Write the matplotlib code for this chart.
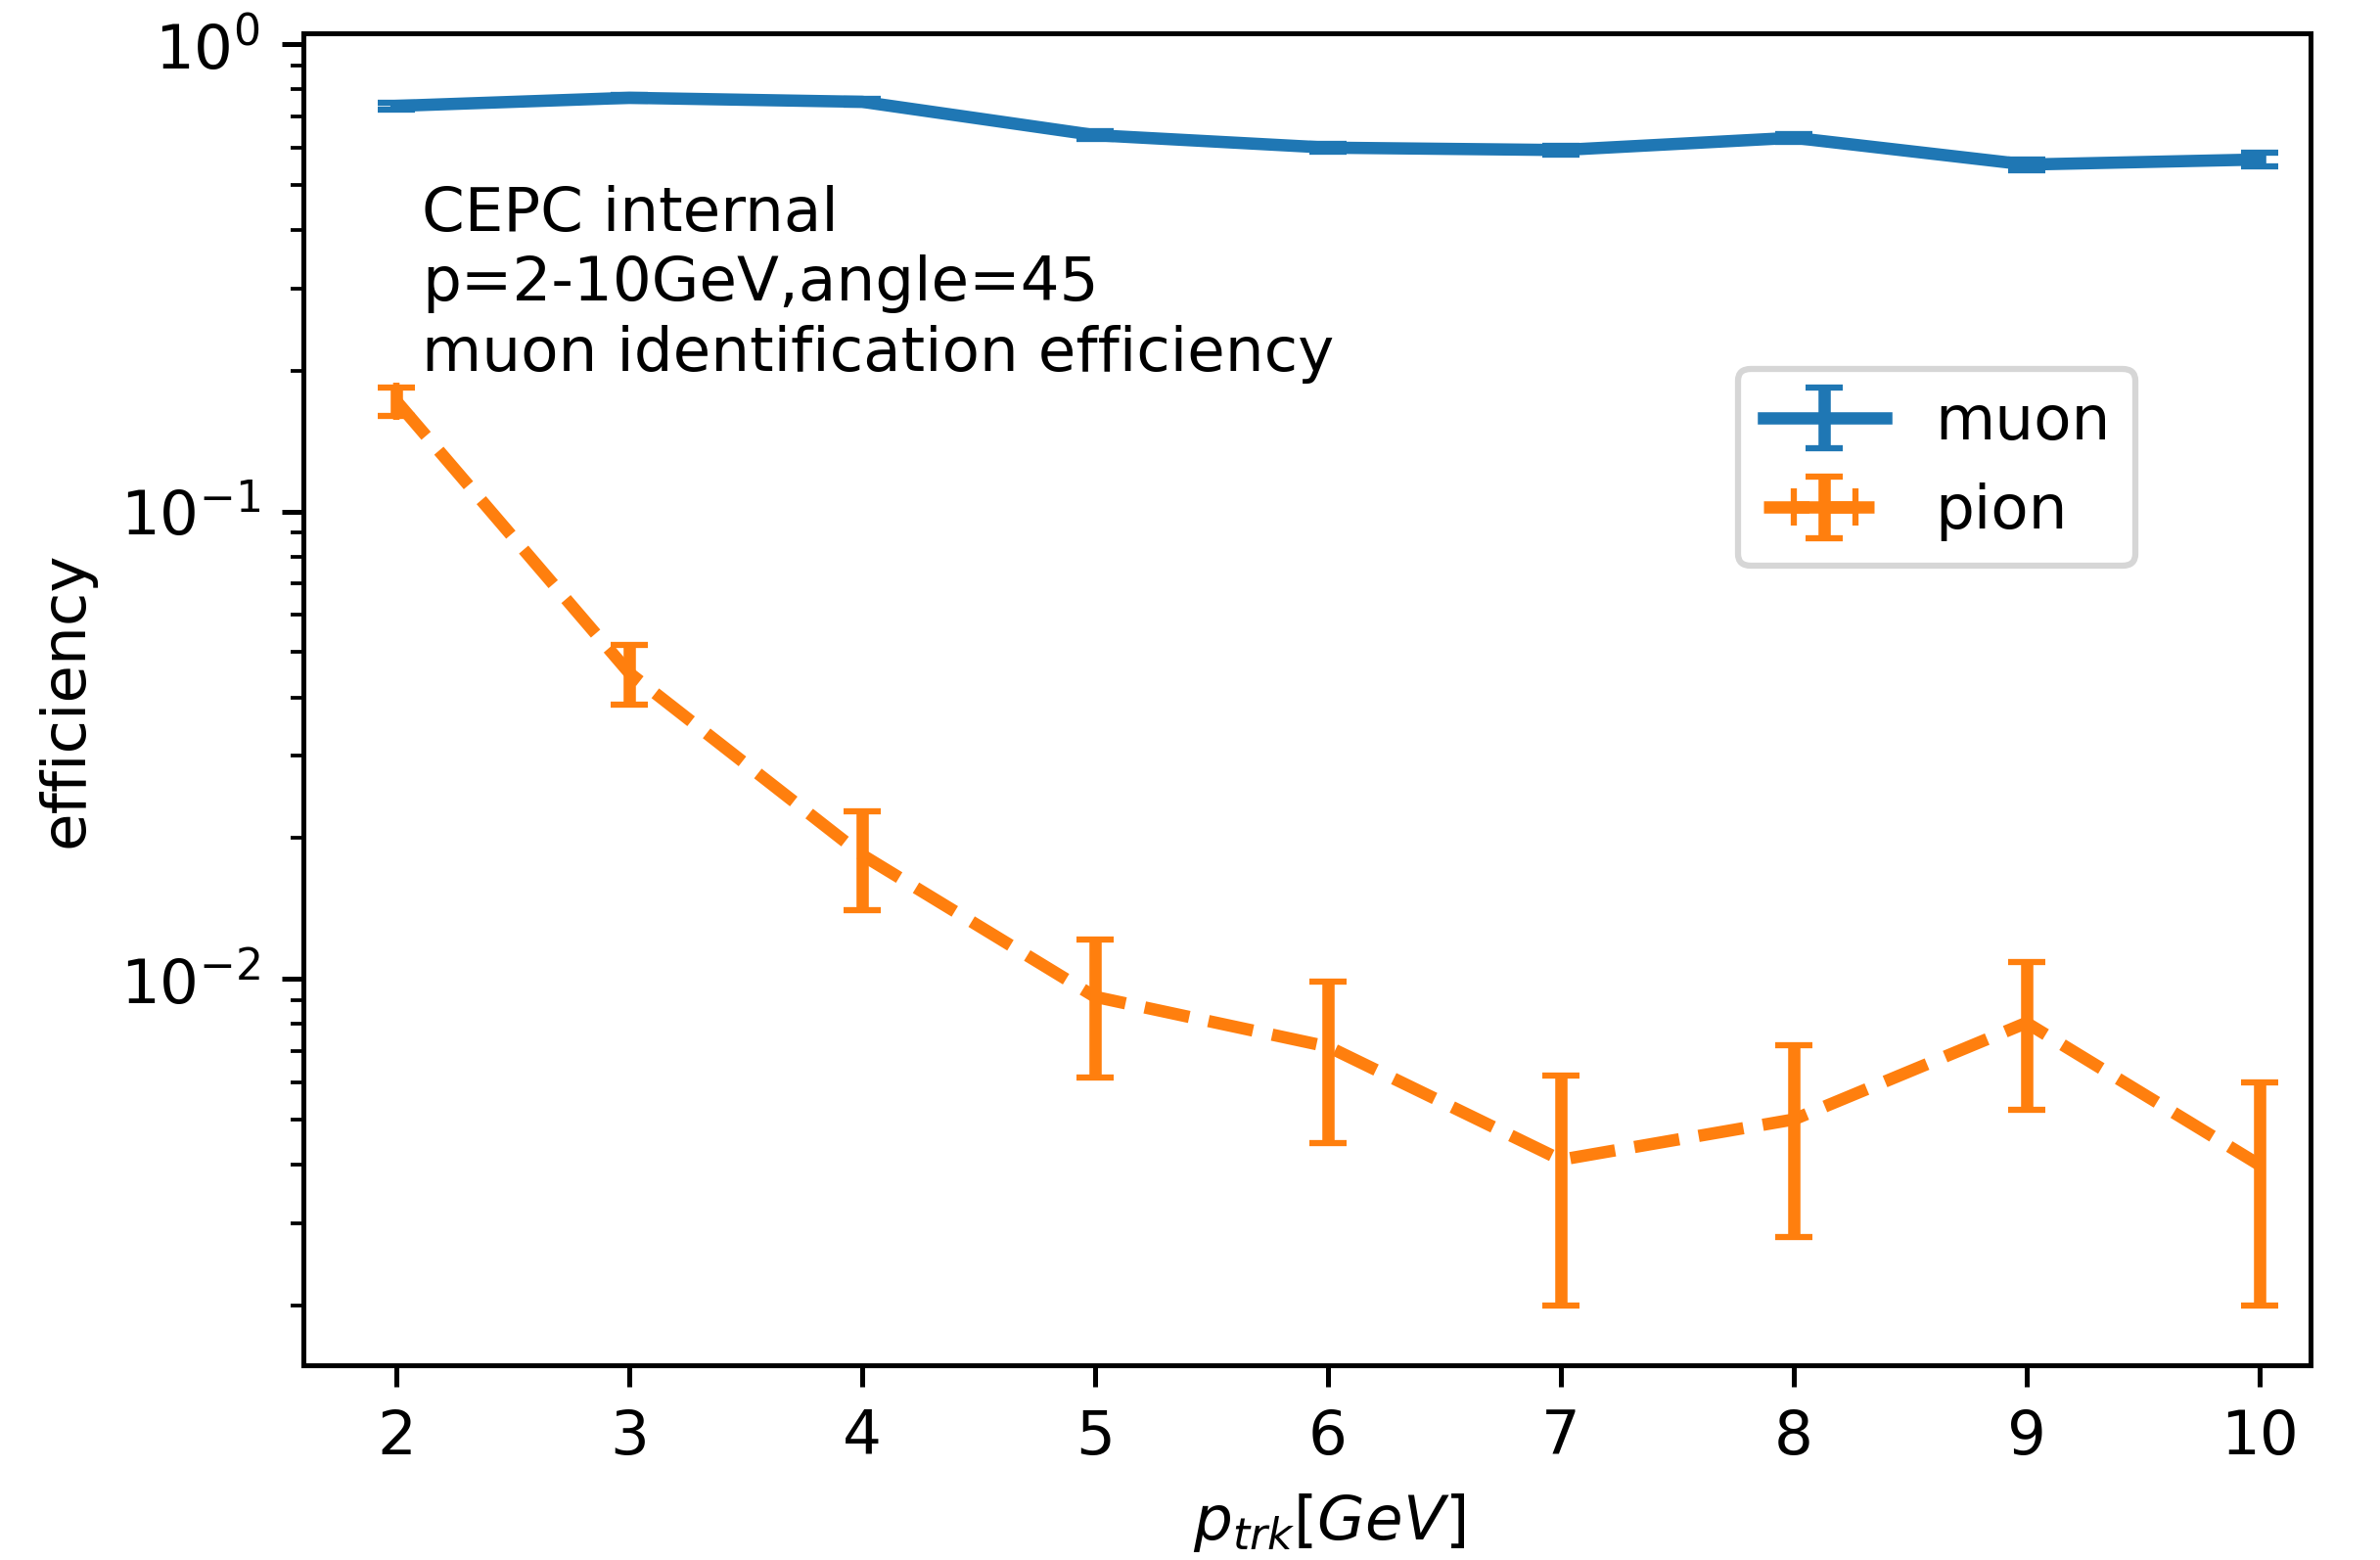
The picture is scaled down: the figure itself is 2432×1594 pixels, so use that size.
import numpy as np
import matplotlib
matplotlib.use("Agg")
import matplotlib.pyplot as plt

# track momentum points [GeV]
momentum = [2, 3, 4, 5, 6, 7, 8, 9, 10]

# muon identification efficiency for true muons
muon_eff = [0.737, 0.767, 0.752, 0.638, 0.600, 0.593, 0.630, 0.552, 0.566]
muon_err = [0.012, 0.012, 0.012, 0.012, 0.012, 0.012, 0.012, 0.015, 0.018]

# pion mis-identification rate
pion_eff = [0.172, 0.0451, 0.0184, 0.00915, 0.00716, 0.0041, 0.0050, 0.00805, 0.0040]
pion_err = [0.012, 0.0066, 0.0044, 0.0030, 0.0027, 0.0021, 0.0022, 0.0028, 0.0020]
pion_xerr = [0, 0, 0, 0, 0, 0, 0, 0, 0]

info_lines = ["CEPC internal", "p=2-10GeV,angle=45", "muon identification efficiency"]

DPI = 452
fig = plt.figure(figsize=(2432 / DPI, 1594 / DPI), dpi=DPI)
ax = fig.add_axes([310 / 2432, 1 - 1395 / 1594, (2361 - 310) / 2432, (1395 - 34) / 1594])

ax.errorbar(momentum, muon_eff, yerr=muon_err, fmt="-", color="C0",
            linewidth=2, capsize=3, label="muon")
ax.errorbar(momentum, pion_eff, yerr=pion_err, xerr=pion_xerr, fmt="--",
            color="C1", linewidth=2, capsize=3, label="pion")

ax.set_yscale("log")
ax.set_xlim(1.6, 10.22)
ax.set_ylim(1.49e-3, 1.054)

ax.set_xlabel(r"$p_{trk}[GeV]$", x=0.511)
ax.set_ylabel("efficiency")

ax.text(0.059, 0.886, "\n".join(info_lines), transform=ax.transAxes,
        ha="left", va="top", linespacing=1.24)

ax.legend(loc="lower left", bbox_to_anchor=(0.715, 0.600), borderaxespad=0)

fig.savefig("out.png", dpi=DPI)
